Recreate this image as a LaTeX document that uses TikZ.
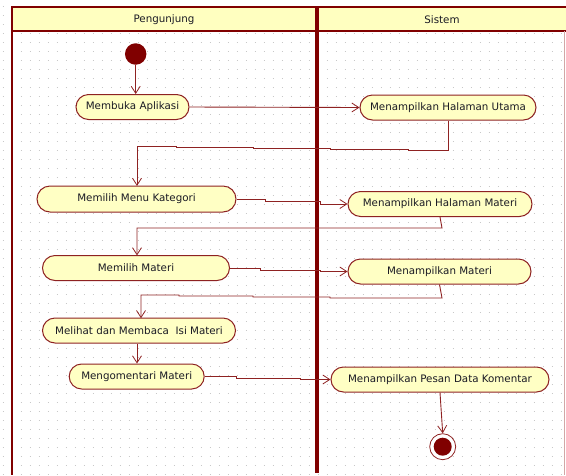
\documentclass[tikz,border=0pt]{standalone}
\usepackage{fontspec}
\setmainfont{DejaVu Sans}
\usetikzlibrary{arrows.meta,shapes.misc}

\definecolor{lanered}{HTML}{800000}
\definecolor{edgered}{HTML}{8E2222}
\definecolor{actfill}{HTML}{FFFFC4}
\definecolor{headfill}{HTML}{FFFFC0}
\definecolor{gridgray}{HTML}{C8C8C8}
\definecolor{txt}{HTML}{1A1A24}

\begin{document}
\begin{tikzpicture}[x=1pt,y=-1pt,
  activity/.style={rounded rectangle, draw=edgered, line width=1pt, fill=actfill,
    text=txt, font=\fontsize{10.3}{12}\selectfont, inner sep=0pt, minimum height=25pt},
  flow/.style={draw=edgered, line width=0.9pt,
    -{Straight Barb[length=7pt,width=9pt,line width=0.8pt]}},
  lanetitle/.style={text=txt, font=\fontsize{10.3}{12}\selectfont, inner sep=0pt}]

\useasboundingbox (0,0) rectangle (566,475);

% dotted background grid
\foreach \gy in {6,15,...,474}
  \draw[gridgray, line width=1pt, dash pattern=on 1pt off 8pt] (2.5,\gy) -- (566,\gy);

% swimlane frame and headers
\fill[headfill] (12,7) rectangle (566,31);
\draw[lanered, line width=2pt] (11,7) -- (566,7);
\draw[lanered, line width=2pt] (11,31) -- (566,31);
\draw[lanered, line width=2.2pt] (12,6) -- (12,475);
\draw[lanered, line width=4pt] (317,6) -- (317,473);
\draw[lanered!35, line width=1pt] (564.5,31) -- (564.5,475);

\node[lanetitle] (hp) at (164,19.5) {Pengunjung};
\node[lanetitle] (hs) at (442,19.5) {Sistem};

% start and end
\node[circle, fill=lanered, minimum size=21.5pt, inner sep=0pt] (init) at (135.7,54) {};
\node[circle, draw=edgered, fill=white, line width=0.8pt, minimum size=26pt, inner sep=0pt] (fin) at (442.7,446.7) {};
\fill[lanered] (fin.center) circle (9pt);

% activities
\node[activity, minimum width=113pt] (a1) at (132.5,107) {Membuka Aplikasi};
\node[activity, minimum width=176pt] (s1) at (448,107.5) {Menampilkan Halaman Utama};
\node[activity, minimum width=199pt, minimum height=26pt] (a2) at (136.5,199) {Memilih Menu Kategori};
\node[activity, minimum width=184pt] (s2) at (440,204) {Menampilkan Halaman Materi};
\node[activity, minimum width=187pt] (a3) at (136,268) {Memilih Materi};
\node[activity, minimum width=183pt] (s3) at (439.5,271.5) {Menampilkan Materi};
\node[activity, minimum width=193pt] (a4) at (139,330.5) {Melihat dan Membaca\ \ Isi Materi};
\node[activity, minimum width=135pt] (a5) at (136.7,376.5) {Mengomentari Materi};
\node[activity, minimum width=218pt] (s4) at (440,379.5) {Menampilkan Pesan Data Komentar};

% control flows
\draw[flow] (init.south) -- (init.south |- a1.north);
\draw[flow] (a1.east) -- (s1.west);
\draw[flow] (s1.south) -- (448,150) -- (408,150) -- (408,149) -- (330,149) -- (330,148)
  -- (253,148) -- (253,147) -- (176,147) -- (176,146) -- (137,146) -- (137,185.9);
\draw[flow] (a2.east) -- (265,199) -- (265,201) -- (320,201) -- (320,204) -- (s2.west);
\draw[flow] (s2.south) -- (442,228) -- (137,228) -- (137,255.4);
\draw[flow] (a3.east) -- (260,268) -- (260,270) -- (320,270) -- (320,271.5) -- (s3.west);
\draw[flow] (s3.south) -- (442,298) -- (330,298) -- (330,297) -- (253,297) -- (253,296)
  -- (179,296) -- (179,295) -- (141,295) -- (141,318.2);
\draw[flow] (a4.south -| 137,0) -- (a5.north -| 137,0);
\draw[flow] (a5.east) -- (236,376.5) -- (236,378) -- (300,378) -- (300,379.5) -- (s4.west);
\draw[flow] (s4.south) -- (fin.north);

\end{tikzpicture}
\end{document}
